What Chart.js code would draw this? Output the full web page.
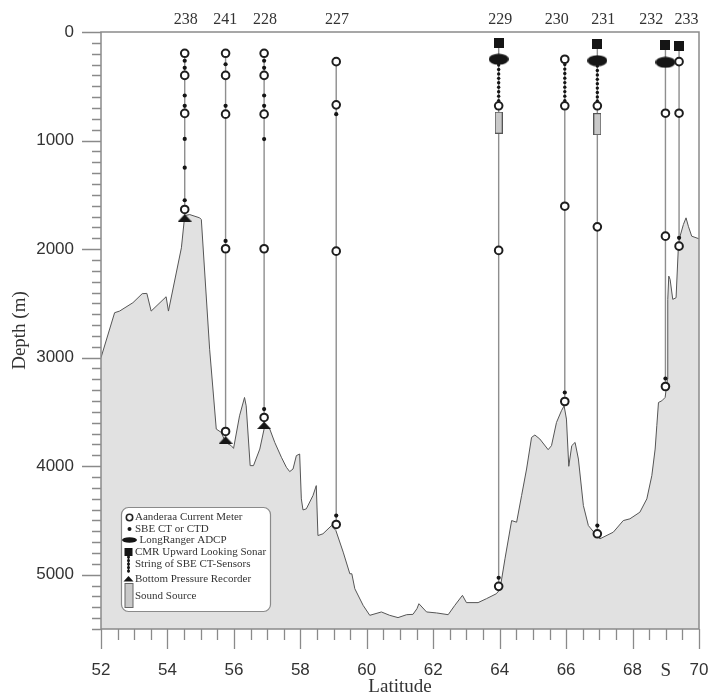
<!DOCTYPE html>
<html>
<head>
<meta charset="utf-8">
<title>Mooring section</title>
<script src="https://cdn.jsdelivr.net/npm/chart.js@4.4.1/dist/chart.umd.min.js"></script>
<style>
  html, body { margin: 0; padding: 0; background: #fff; }
</style>
</head>
<body>
<canvas id="section" width="711" height="698"></canvas>
<script>
// moorings along the section, west to east in latitude
const mooringNames = ['238', '241', '228', '227', '229', '230', '231', '232', '233'];
const mooringLat = [54.52, 55.75, 56.91, 59.08, 63.97, 65.96, 66.94, 68.99, 69.40];
const nameLat = [54.55, 55.74, 56.94, 59.10, 64.02, 65.72, 67.12, 68.56, 69.62];
const lineTop = [196, 196, 196, 273, 98, 251, 113, 119, 126];
const lineBottom = [1710, 3756, 3621, 4537, 5107, 3404, 4623, 3266, 1973];

// instrument depths (m), one list per mooring
const meterDepths = [
  [196, 400, 750, 1635],
  [196, 400, 757, 1997, 3680],
  [196, 400, 757, 1997, 3551],
  [273, 671, 2019, 4537],
  [680, 2012, 5107],
  [251, 680, 1605, 3404],
  [680, 1795, 4623],
  [748, 1881, 3266],
  [273, 748, 1973]
];
const ctdDepths = [
  [265, 330, 585, 680, 985, 1250, 1550],
  [297, 680, 1925],
  [265, 330, 585, 680, 986, 3474],
  [757, 4455],
  [5028],
  [3321],
  [4547],
  [3192],
  [1896]
];
const stringDepths = [
  [], [], [], [],
  [304, 345, 386, 427, 468, 509, 550, 591, 632],
  [300, 342, 383, 425, 466, 508, 549, 591, 632],
  [314, 354, 395, 436, 476, 517, 558, 598, 636],
  [], []
];
const adcpDepths = [[], [], [], [], [251], [], [264], [279], []];
const sonarDepths = [[], [], [], [], [98], [], [113], [119], [126]];
const bprDepths = [[1710], [3756], [3621], [], [], [], [], [], []];
const sourceDepths = [[], [], [], [], [835], [], [849], [], []];

// bottom topography
const bathyLat = [52.00, 52.41, 52.56, 52.96, 53.24, 53.38, 53.51, 53.96, 54.03, 54.42,
  54.52, 54.67, 54.97, 55.02, 55.27, 55.47, 55.62, 55.75, 55.92, 55.99,
  56.17, 56.32, 56.37, 56.49, 56.59, 56.78, 56.93, 57.08, 57.23, 57.43,
  57.58, 57.68, 57.78, 57.88, 57.98, 58.03, 58.08, 58.18, 58.38, 58.48,
  58.53, 58.68, 58.94, 59.07, 59.29, 59.49, 59.55, 59.64, 59.89, 60.09,
  60.44, 60.69, 60.94, 61.20, 61.39, 61.51, 61.57, 61.80, 62.10, 62.45,
  62.65, 62.88, 63.00, 63.35, 63.60, 63.90, 64.01, 64.16, 64.36, 64.51,
  64.66, 64.81, 64.96, 65.06, 65.21, 65.46, 65.56, 65.71, 65.86, 65.94,
  66.01, 66.08, 66.17, 66.27, 66.37, 66.52, 66.67, 66.92, 67.02, 67.42,
  67.72, 67.92, 68.22, 68.43, 68.58, 68.68, 68.73, 68.78, 68.88, 68.98,
  69.05, 69.06, 69.09, 69.13, 69.21, 69.31, 69.38, 69.43, 69.53, 69.61,
  69.68, 69.78, 69.98, 70.00];
const bathyDepth = [3000, 2586, 2571, 2494, 2411, 2408, 2571, 2439, 2571, 1988,
  1691, 1682, 1712, 1728, 2923, 3658, 3689, 3781, 3811, 3836,
  3536, 3367, 3444, 3995, 3995, 3842, 3627, 3658, 3781, 3918,
  4010, 4050, 4026, 3903, 3888, 4301, 4403, 4393, 4271, 4179,
  4639, 4623, 4547, 4593, 4792, 4991, 4991, 5129, 5282, 5374,
  5343, 5374, 5395, 5368, 5365, 5313, 5267, 5343, 5352, 5368,
  5282, 5190, 5257, 5257, 5221, 5175, 5135, 4853, 4501, 4516,
  4271, 4026, 3735, 3713, 3750, 3848, 3811, 3597, 3489, 3444,
  3566, 4001, 3811, 3781, 3934, 4363, 4547, 4639, 4669, 4608,
  4501, 4485, 4424, 4301, 4087, 3842, 3627, 3413, 3398, 3367,
  3199, 2463, 2249, 2279, 2463, 2448, 1973, 1881, 1774, 1712,
  1790, 1881, 1903, 1905];

const legendLabels = ['Aanderaa Current Meter', 'SBE CT or CTD', 'LongRanger ADCP',
  'CMR Upward Looking Sonar', 'String of SBE CT-Sensors', 'Bottom Pressure Recorder', 'Sound Source'];

const INK = '#151515';
const LINE_GREY = '#8e8e8e';
const FRAME_GREY = '#8a8a8a';

function makeIcon(w, h, draw) {
  const c = document.createElement('canvas');
  c.width = w;
  c.height = h;
  draw(c.getContext('2d'), w, h);
  return c;
}

const adcpIcon = makeIcon(20, 12, (g, w, h) => {
  g.fillStyle = INK;
  g.beginPath();
  g.ellipse(w / 2, h / 2, w / 2, h / 2 - 0.5, 0, 0, Math.PI * 2);
  g.fill();
});
const sonarIcon = makeIcon(10, 10, (g, w, h) => {
  g.fillStyle = INK;
  g.fillRect(0, 0, w, h);
});
const bprIcon = makeIcon(14, 8, (g, w, h) => {
  g.fillStyle = INK;
  g.beginPath();
  g.moveTo(0, h);
  g.lineTo(w / 2, 0.5);
  g.lineTo(w, h);
  g.closePath();
  g.fill();
});
const sourceIcon = makeIcon(8, 22, (g, w, h) => {
  g.fillStyle = '#c9c9c9';
  g.fillRect(0.5, 0.5, w - 1, h - 1);
  g.strokeStyle = '#555';
  g.lineWidth = 1;
  g.strokeRect(0.5, 0.5, w - 1, h - 1);
});

function points(lists) {
  return mooringLat.flatMap((lat, i) => lists[i].map(d => ({ x: lat, y: d })));
}

const datasets = [];

datasets.push({
  label: 'bathymetry',
  data: bathyLat.map((lat, i) => ({ x: lat, y: bathyDepth[i] })),
  borderColor: '#555',
  borderWidth: 1,
  backgroundColor: '#e1e1e1',
  fill: 'start',
  pointRadius: 0,
  tension: 0,
  order: 100
});

mooringLat.forEach((lat, i) => {
  datasets.push({
    label: 'mooring ' + mooringNames[i],
    data: [{ x: lat, y: lineTop[i] }, { x: lat, y: lineBottom[i] }],
    borderColor: LINE_GREY,
    borderWidth: 1.4,
    pointRadius: 0,
    fill: false,
    order: 50
  });
});

function markers(label, data, style, order) {
  return Object.assign({ label, data, showLine: false, order, fill: false }, style);
}

datasets.push(markers('string', points(stringDepths),
  { pointStyle: 'circle', pointRadius: 1.7, pointBorderWidth: 0, pointBackgroundColor: INK }, 20));
datasets.push(markers('ctd', points(ctdDepths),
  { pointStyle: 'circle', pointRadius: 2.1, pointBorderWidth: 0, pointBackgroundColor: INK }, 15));
datasets.push(markers('source', points(sourceDepths), { pointStyle: sourceIcon }, 12));
datasets.push(markers('bpr', points(bprDepths), { pointStyle: bprIcon }, 11));
datasets.push(markers('adcp', points(adcpDepths), { pointStyle: adcpIcon }, 10));
datasets.push(markers('sonar', points(sonarDepths), { pointStyle: sonarIcon }, 9));
datasets.push(markers('meters', points(meterDepths),
  { pointStyle: 'circle', pointRadius: 3.8, pointBorderWidth: 2, pointBorderColor: '#1e1e1e', pointBackgroundColor: '#fff' }, 5));

// frame, tick marks, mooring names and the symbol key
const sectionDecor = {
  id: 'sectionDecor',
  afterDatasetsDraw(chart) {
    const { ctx, chartArea: a, scales: { x, y } } = chart;
    ctx.save();
    ctx.strokeStyle = FRAME_GREY;
    ctx.lineWidth = 1.5;
    ctx.strokeRect(a.left, a.top, a.right - a.left, a.bottom - a.top);
    ctx.lineWidth = 1.3;
    ctx.beginPath();
    x.ticks.forEach(t => {
      const px = Math.round(x.getPixelForValue(t.value)) + 0.5;
      const len = Math.abs(t.value / 2 - Math.round(t.value / 2)) < 1e-6 ? 20 : 11;
      ctx.moveTo(px, a.bottom);
      ctx.lineTo(px, a.bottom + len);
    });
    y.ticks.forEach(t => {
      const py = Math.round(y.getPixelForValue(t.value)) + 0.5;
      const len = t.value % 1000 === 0 ? 19 : 9;
      ctx.moveTo(a.left - len, py);
      ctx.lineTo(a.left, py);
    });
    ctx.stroke();
    ctx.restore();
  },
  afterDraw(chart) {
    const { ctx, chartArea: a, scales: { x } } = chart;
    ctx.save();
    ctx.fillStyle = '#333';
    ctx.font = '16px "Liberation Serif", serif';
    ctx.textAlign = 'center';
    ctx.textBaseline = 'middle';
    mooringNames.forEach((name, i) => {
      ctx.fillText(name, x.getPixelForValue(nameLat[i]), 20);
    });

    // symbol key
    const bx = a.left + 20.5, by = a.bottom - 121.5, bw = 149, bh = 104;
    ctx.fillStyle = '#fff';
    ctx.strokeStyle = FRAME_GREY;
    ctx.lineWidth = 1.2;
    ctx.beginPath();
    ctx.roundRect(bx, by, bw, bh, 7);
    ctx.fill();
    ctx.stroke();

    const ix = bx + 8;
    const rows = [10, 21.5, 32.5, 44.5, 56.5, 71.5, 88.5];
    // current meter
    ctx.beginPath();
    ctx.arc(ix, by + rows[0], 3.2, 0, Math.PI * 2);
    ctx.fillStyle = '#fff';
    ctx.fill();
    ctx.strokeStyle = '#222';
    ctx.lineWidth = 1.6;
    ctx.stroke();
    ctx.fillStyle = INK;
    // ctd
    ctx.beginPath();
    ctx.arc(ix, by + rows[1], 2, 0, Math.PI * 2);
    ctx.fill();
    // adcp
    ctx.beginPath();
    ctx.ellipse(ix, by + rows[2], 7.5, 2.8, 0, 0, Math.PI * 2);
    ctx.fill();
    // sonar with sensor string below it
    ctx.fillRect(ix - 5, by + rows[3] - 4, 8, 8);
    [49.5, 53, 56.5, 60, 63.5].forEach(dy => {
      ctx.beginPath();
      ctx.arc(ix - 1, by + dy, 1.5, 0, Math.PI * 2);
      ctx.fill();
    });
    ctx.fillRect(ix - 1.7, by + 49, 1.4, 16);
    // bottom pressure recorder
    ctx.beginPath();
    ctx.moveTo(ix - 6, by + rows[5] + 2.5);
    ctx.lineTo(ix - 1, by + rows[5] - 3);
    ctx.lineTo(ix + 4, by + rows[5] + 2.5);
    ctx.closePath();
    ctx.fill();
    // sound source
    ctx.fillStyle = '#c9c9c9';
    ctx.fillRect(ix - 4.5, by + 76, 8, 24);
    ctx.strokeStyle = '#666';
    ctx.lineWidth = 1;
    ctx.strokeRect(ix - 4.5, by + 76, 8, 24);

    ctx.fillStyle = '#333';
    ctx.font = '11px "Liberation Serif", serif';
    ctx.textAlign = 'left';
    ctx.textBaseline = 'middle';
    legendLabels.forEach((txt, i) => {
      const tx = i === 2 ? bx + 18 : bx + 13.5;
      ctx.fillText(txt, tx, by + rows[i]);
    });
    ctx.restore();
  }
};

const sansTick = { family: '"Liberation Sans", Arial, sans-serif', size: 17 };
const serifTick = { family: '"Liberation Serif", serif', size: 19 };

new Chart(document.getElementById('section'), {
  type: 'line',
  data: { datasets },
  options: {
    responsive: false,
    animation: false,
    events: [],
    layout: { padding: { top: 32, right: 12, left: 0, bottom: 0 } },
    plugins: {
      legend: { display: false },
      tooltip: { enabled: false }
    },
    scales: {
      x: {
        type: 'linear',
        min: 52,
        max: 70,
        // fixed band below the plot; end labels may overhang into the margins
        afterFit: s => { s.height = 69; s.paddingLeft = 0; s.paddingRight = 0; },
        grid: { display: false, drawTicks: false },
        border: { display: false },
        ticks: {
          stepSize: 0.5,
          autoSkip: false,
          maxRotation: 0,
          padding: 31,
          color: '#333',
          font: c => (c.tick && Math.abs(c.tick.value - 69) < 1e-6 ? serifTick : sansTick),
          callback: v => {
            if (Math.abs(v - 69) < 1e-6) return 'S';
            return Math.abs(v / 2 - Math.round(v / 2)) < 1e-6 ? String(Math.round(v)) : '';
          }
        },
        title: {
          display: true,
          text: 'Latitude',
          color: '#333',
          font: { family: '"Liberation Serif", serif', size: 19 },
          padding: { top: 0, bottom: 0 }
        }
      },
      y: {
        type: 'linear',
        min: 0,
        max: 5500,
        reverse: true,
        afterFit: s => { s.width = 101; s.paddingTop = 0; s.paddingBottom = 0; },
        grid: { display: false, drawTicks: false },
        border: { display: false },
        ticks: {
          stepSize: 100,
          autoSkip: false,
          padding: 27,
          color: '#333',
          font: sansTick,
          callback: v => (v % 1000 === 0 ? String(v) : '')
        },
        title: {
          display: true,
          text: 'Depth (m)',
          color: '#333',
          font: { family: '"Liberation Serif", serif', size: 19 },
          padding: { top: 9, bottom: 0 }
        }
      }
    }
  },
  plugins: [sectionDecor]
});
</script>
</body>
</html>
